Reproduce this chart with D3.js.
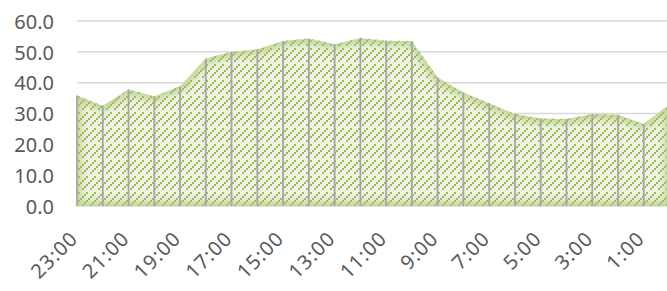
<!DOCTYPE html>
<html>
<head>
<meta charset="utf-8">
<script src="https://cdn.jsdelivr.net/npm/d3@7"></script>
<style>
  body { margin: 0; background: #fff; }
  .tick-label { fill: #595959; font-family: "Noto Sans", sans-serif; }
</style>
</head>
<body>
<svg id="chart" width="667" height="291"></svg>
<script>
// hours, counted down from 23:00
var hours = ["23:00", "22:00", "21:00", "20:00", "19:00", "18:00", "17:00", "16:00",
             "15:00", "14:00", "13:00", "12:00", "11:00", "10:00", "9:00", "8:00",
             "7:00", "6:00", "5:00", "4:00", "3:00", "2:00", "1:00", "0:00"];
var values = [35.8, 32.5, 37.8, 35.6, 38.8, 47.8, 50.0, 50.8,
              53.5, 54.3, 52.5, 54.5, 53.6, 53.5, 41.7, 36.8,
              33.3, 29.8, 28.4, 28.2, 29.8, 29.6, 26.6, 33.0];
var yTicks = [0, 10, 20, 30, 40, 50, 60];
// only every other hour gets a label
var xLabels = hours.filter(function(d, i) { return i % 2 === 0; });

var svg = d3.select("#chart");
var width = 667, height = 291;

var x = d3.scalePoint().domain(hours).range([77, 669.5]);
var y = d3.scaleLinear().domain([0, 60]).range([206, 21]);

var defs = svg.append("defs");

// dashed upward diagonal hatch, 2px squares on a 16px tile
var pat = defs.append("pattern")
    .attr("id", "hatch")
    .attr("patternUnits", "userSpaceOnUse")
    .attr("width", 16).attr("height", 16);
pat.append("rect").attr("width", 16).attr("height", 16).attr("fill", "#edf2e1");
for (var px = 0; px < 16; px += 2) {
  for (var py = 0; py < 16; py += 2) {
    var s = (px + py) % 16;
    if (s !== 6 && s !== 14) continue;
    if ((px === 0 && py === 14) || (px === 8 && py === 14)) continue; // gaps
    pat.append("rect").attr("x", px).attr("y", py)
      .attr("width", 2).attr("height", 2).attr("fill", "#9bbb59");
  }
}

defs.append("filter").attr("id", "soft")
    .attr("x", "-10%").attr("y", "-10%").attr("width", "120%").attr("height", "120%")
  .append("feGaussianBlur").attr("stdDeviation", 3);

var area = d3.area()
    .x(function(d, i) { return x(hours[i]); })
    .y0(y(0))
    .y1(function(d) { return y(d); });

defs.append("clipPath").attr("id", "areaClip")
  .append("path").attr("d", area(values));

// gridlines
svg.append("g").selectAll("line")
  .data(yTicks)
  .enter().append("line")
    .attr("x1", x.range()[0]).attr("x2", width)
    .attr("y1", function(d) { return y(d); })
    .attr("y2", function(d) { return y(d); })
    .attr("stroke", "#d9d9d9")
    .attr("stroke-width", 1.5);

// the area with its soft glowing edge
svg.append("path")
  .attr("d", area(values))
  .attr("fill", "url(#hatch)");

svg.append("g").attr("clip-path", "url(#areaClip)")
  .append("path")
    .attr("d", area(values))
    .attr("fill", "none")
    .attr("stroke", "#a9c56e")
    .attr("stroke-width", 10)
    .attr("opacity", 0.6)
    .attr("filter", "url(#soft)");

// drop lines
svg.append("g").selectAll("line")
  .data(values)
  .enter().append("line")
    .attr("x1", function(d, i) { return x(hours[i]); })
    .attr("x2", function(d, i) { return x(hours[i]); })
    .attr("y1", function(d) { return y(d); })
    .attr("y2", y(0))
    .attr("stroke", "#a5a5a5")
    .attr("stroke-width", 1.75);

// y axis labels
var yAxis = d3.axisLeft(y).tickValues(yTicks).tickSize(0).tickPadding(0)
    .tickFormat(d3.format(".1f"));
var gy = svg.append("g").attr("transform", "translate(54,0)").call(yAxis);
gy.attr("font-family", null).attr("font-size", null);
gy.select(".domain").remove();
gy.selectAll("text")
  .attr("class", "tick-label")
  .style("font-size", "20px")
  .attr("dy", "0.36em");

// x axis labels, rotated
svg.append("g").selectAll("text")
  .data(xLabels)
  .enter().append("text")
    .attr("class", "tick-label")
    .attr("text-anchor", "end")
    .style("font-size", "20px")
    .style("letter-spacing", "1px")
    .attr("transform", function(d) {
      return "translate(" + (x(d) + 2) + ",240) rotate(-45)";
    })
    .text(function(d) { return d; });
</script>
</body>
</html>
